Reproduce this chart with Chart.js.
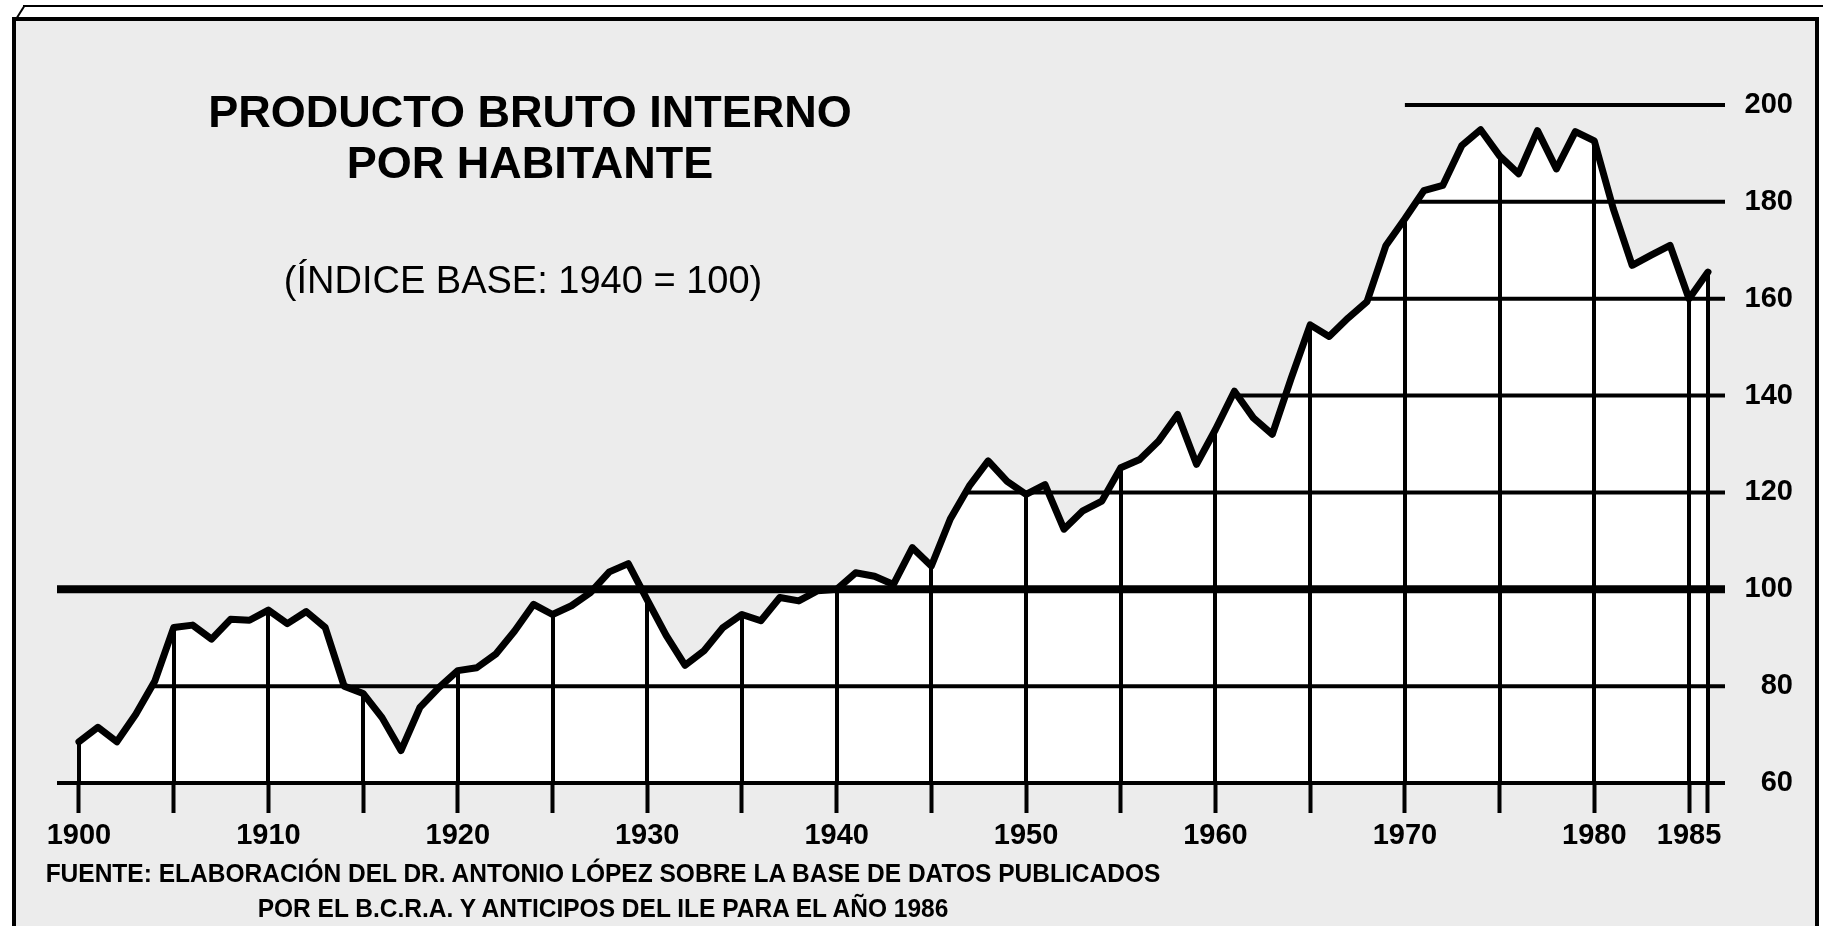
<!DOCTYPE html>
<html lang="es">
<head>
<meta charset="utf-8">
<title>Producto bruto interno por habitante</title>
<script src="https://cdn.jsdelivr.net/npm/chart.js@4.4.1/dist/chart.umd.min.js"></script>
<style>
    html, body { margin: 0; padding: 0; background: #fff; overflow: hidden; }
    body { position: relative; width: 1823px; height: 926px; font-family: "Liberation Sans", Arial, sans-serif; color: #000; }
    #frame { position: absolute; left: 12px; top: 17px; width: 1799px; height: 1000px; border: 4px solid #000; border-bottom: none; background: #ececec; }
    #outerLine { position: absolute; left: 23px; top: 5px; right: 0; border-top: 2px solid #000; }
    #corner { position: absolute; left: 15px; top: 19px; width: 16px; border-top: 2px solid #000; transform-origin: 0 0; transform: rotate(-58deg); }
    #myChart { position: absolute; left: 0; top: 0; }
    .title { position: absolute; left: 0; top: 86px; width: 1060px; text-align: center; font-weight: bold; font-size: 45px; line-height: 51px; }
    .subtitle { position: absolute; left: 0; top: 258px; width: 1046px; text-align: center; font-size: 38px; line-height: 44px; }
    .source { position: absolute; left: 0; top: 856px; width: 1206px; text-align: center; font-weight: bold; font-size: 26px; line-height: 35px; transform: scaleX(0.943); transform-origin: 603px 0; }
</style>
</head>
<body>
<div id="outerLine"></div>
<div id="corner"></div>
<div id="frame"></div>
<canvas id="myChart" width="1823" height="926"></canvas>
<div class="title">PRODUCTO BRUTO INTERNO<br>POR HABITANTE</div>
<div class="subtitle">(ÍNDICE BASE: 1940 = 100)</div>
<div class="source">FUENTE: ELABORACIÓN DEL DR. ANTONIO LÓPEZ SOBRE LA BASE DE DATOS PUBLICADOS<br>POR EL B.C.R.A. Y ANTICIPOS DEL ILE PARA EL AÑO 1986</div>

<script>
const years = [
    1900, 1901, 1902, 1903, 1904, 1905, 1906, 1907, 1908, 1909,
    1910, 1911, 1912, 1913, 1914, 1915, 1916, 1917, 1918, 1919,
    1920, 1921, 1922, 1923, 1924, 1925, 1926, 1927, 1928, 1929,
    1930, 1931, 1932, 1933, 1934, 1935, 1936, 1937, 1938, 1939,
    1940, 1941, 1942, 1943, 1944, 1945, 1946, 1947, 1948, 1949,
    1950, 1951, 1952, 1953, 1954, 1955, 1956, 1957, 1958, 1959,
    1960, 1961, 1962, 1963, 1964, 1965, 1966, 1967, 1968, 1969,
    1970, 1971, 1972, 1973, 1974, 1975, 1976, 1977, 1978, 1979,
    1980, 1981, 1982, 1983, 1984, 1985, 1986
];

// indice 1940 = 100
const pbiHabitante = [
    68.5, 71.5, 68.5, 74.2, 81.0, 92.1, 92.6, 89.7, 93.8, 93.6,
    95.7, 92.9, 95.4, 92.1, 80.0, 78.5, 73.5, 66.7, 75.6, 79.7,
    83.2, 83.8, 86.6, 91.4, 96.9, 94.8, 96.6, 99.3, 103.6, 105.3,
    97.8, 90.5, 84.3, 87.3, 92.1, 94.8, 93.5, 98.3, 97.6, 99.7,
    100.0, 103.4, 102.7, 101.0, 108.6, 104.8, 114.5, 121.3, 126.5, 122.3,
    119.6, 121.6, 112.4, 116.2, 118.2, 125.1, 126.8, 130.6, 136.1, 125.8,
    133.0, 140.9, 135.4, 132.0, 143.6, 154.6, 152.2, 156.0, 159.4, 171.0,
    176.5, 182.3, 183.4, 191.6, 194.9, 189.5, 185.8, 194.7, 186.8, 194.5,
    192.6, 178.6, 166.9, 169.0, 171.0, 160.0, 165.5
];

const gridYears = [1900, 1905, 1910, 1915, 1920, 1925, 1930, 1935, 1940, 1945,
    1950, 1955, 1960, 1965, 1970, 1975, 1980, 1985, 1986];
const labelYears = [1900, 1910, 1920, 1930, 1940, 1950, 1960, 1970, 1980, 1985];
const gridValues = [60, 80, 100, 120, 140, 160, 180, 200];

const yMin = 60;
const yMax = 200;
const yStep = 20;
const baseIndex = 100;      // 1940 = 100
const topLineFrom = 1970;   // la linea de 200 empieza aqui

const ink = '#000';
const paper = '#ececec';
const tickFont = { family: '"Liberation Sans", Arial, sans-serif', size: 29, weight: 'bold' };

// primer año en que la curva alcanza el valor v (null si ya empieza encima)
function firstCrossing(v) {
    if (pbiHabitante[0] >= v) { return null; }
    for (let i = 1; i < pbiHabitante.length; i++) {
        if (pbiHabitante[i] >= v) {
            const a = pbiHabitante[i - 1];
            const b = pbiHabitante[i];
            return years[i - 1] + (v - a) / (b - a);
        }
    }
    return topLineFrom;
}

const paperGrid = {
    id: 'paperGrid',
    beforeDraw(chart) {
        const { ctx, chartArea } = chart;
        const x = chart.scales.x;
        ctx.save();
        ctx.fillStyle = '#fff';
        const x0 = x.getPixelForValue(years[0]);
        const x1 = x.getPixelForValue(years[years.length - 1]);
        ctx.fillRect(x0, chartArea.top, x1 - x0, chartArea.bottom - chartArea.top);
        ctx.restore();
    },
    beforeDatasetsDraw(chart) {
        const { ctx, chartArea } = chart;
        const x = chart.scales.x;
        const y = chart.scales.y;
        ctx.save();
        // verticales solo debajo de la curva
        ctx.strokeStyle = ink;
        ctx.lineWidth = 4;
        gridYears.forEach(function (yr) {
            const i = years.indexOf(yr);
            const px = Math.round(x.getPixelForValue(yr));
            ctx.beginPath();
            ctx.moveTo(px, y.getPixelForValue(pbiHabitante[i]));
            ctx.lineTo(px, chartArea.bottom);
            ctx.stroke();
        });
        ctx.restore();
    },
    afterDatasetsDraw(chart) {
        const { ctx, chartArea } = chart;
        const x = chart.scales.x;
        const y = chart.scales.y;
        ctx.save();
        ctx.strokeStyle = ink;
        gridValues.forEach(function (v) {
            const from = v === baseIndex ? null : firstCrossing(v);
            const px = from === null ? chartArea.left : x.getPixelForValue(from);
            const py = y.getPixelForValue(v);
            ctx.lineWidth = v === baseIndex ? 8 : 4;
            ctx.beginPath();
            ctx.moveTo(px, py);
            ctx.lineTo(chartArea.right, py);
            ctx.stroke();
        });
        ctx.restore();
    }
};

let pbiChart;

function showChart() {

    const ctx = document.getElementById('myChart');

    const data = {
        datasets: [{
            label: 'PBI por habitante',
            data: years.map(function (yr, i) { return { x: yr, y: pbiHabitante[i] }; }),
            borderColor: ink,
            borderWidth: 7,
            borderJoinStyle: 'round',
            borderCapStyle: 'round',
            pointRadius: 0,
            tension: 0,
            fill: 'end',
            backgroundColor: paper
        }]
    };

    const options = {
        responsive: false,
        animation: false,
        layout: {
            padding: { left: 57, top: 105, right: 30, bottom: 63 }
        },
        plugins: {
            legend: { display: false },
            tooltip: { enabled: false }
        },
        scales: {
            x: {
                type: 'linear',
                min: 1898.84,
                max: 1986.9,
                afterBuildTicks: function (scale) {
                    scale.ticks = gridYears.map(function (v) { return { value: v }; });
                },
                afterFit: function (scale) { scale.height = 80; },
                ticks: {
                    autoSkip: false,
                    maxRotation: 0,
                    minRotation: 0,
                    padding: 6,
                    color: ink,
                    font: tickFont,
                    callback: function (v) { return labelYears.includes(v) ? String(v) : ''; }
                },
                grid: {
                    drawOnChartArea: false,
                    drawTicks: true,
                    tickLength: 30,
                    tickWidth: 4,
                    tickColor: ink
                },
                border: { display: false }
            },
            y: {
                position: 'right',
                min: yMin,
                max: yMax,
                afterFit: function (scale) { scale.width = 68; },
                ticks: {
                    stepSize: yStep,
                    crossAlign: 'far',
                    padding: 20,
                    color: ink,
                    font: tickFont
                },
                grid: { display: false },
                border: { display: false }
            }
        }
    };

    if (pbiChart) { pbiChart.destroy(); }

    pbiChart = new Chart(ctx, {
        type: 'line',
        data: data,
        options: options,
        plugins: [paperGrid]
    });
}

showChart();
</script>
</body>
</html>
